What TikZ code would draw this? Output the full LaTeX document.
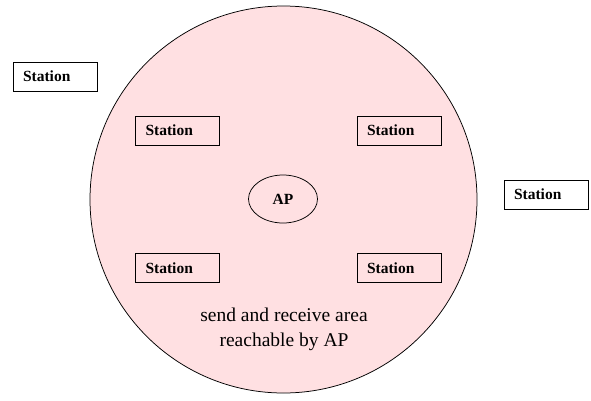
\documentclass[tikz,border=0pt]{standalone}
\usepackage{fontspec}
\setmainfont{Liberation Serif}
\usetikzlibrary{shapes.geometric}

\definecolor{areapink}{RGB}{255,224,226}

\tikzset{
  station/.style={draw,line width=0.75pt,minimum width=84pt,minimum height=29pt,
    inner xsep=10pt,text width=64pt,align=left,
    font=\fontsize{15.5}{18}\selectfont\bfseries},
}

\begin{document}
\begin{tikzpicture}[x=1pt,y=-1pt]
			\useasboundingbox (0,0) rectangle (591,400);
			\node[draw,circle,fill=areapink,line width=0.75pt,minimum size=387pt] (area) at (283.5,199.5) {};
			\node[draw,ellipse,line width=0.75pt,minimum width=69pt,minimum height=48pt,inner sep=0pt,font=\fontsize{15.5}{18}\selectfont\bfseries] (ap) at (283,199) {AP};
			
			\node[station] (outleft) at (55,76.5) {Station};
			\node[station] (outright) at (546,194.5) {Station};
			\node[station] (topleft) at (177.5,130.5) {Station};
			\node[station] (topright) at (399,130.5) {Station};
			\node[station] (botleft) at (177.5,268) {Station};
			\node[station] (botright) at (399,268) {Station};
			
			\node[align=center,font=\fontsize{19.5}{25}\selectfont] (reach) at (284,329) {send and receive area\\reachable by AP};
		\end{tikzpicture}
\end{document}
